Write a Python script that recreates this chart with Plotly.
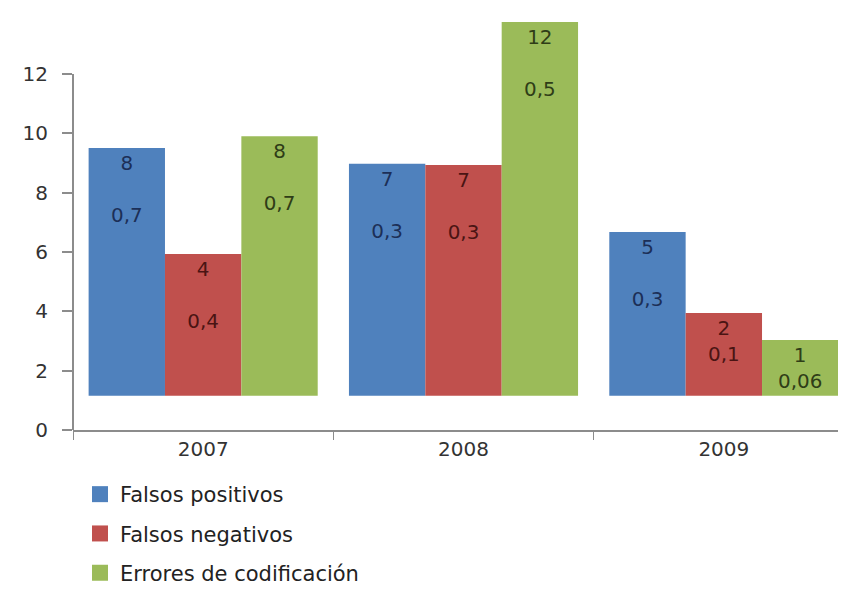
import plotly.graph_objects as go

years = ["2007", "2008", "2009"]
series_names = ["Falsos positivos", "Falsos negativos", "Errores de codificación"]
# bar tops as drawn (axis units), bars start at a raised floor
bar_base = 1.15
fp_top = [9.5, 8.97, 6.67]
fn_top = [5.93, 8.93, 3.94]
ec_top = [9.9, 13.75, 3.03]
fp_count = ["8", "7", "5"]
fn_count = ["4", "7", "2"]
ec_count = ["8", "12", "1"]
fp_rate = ["0,7", "0,3", "0,3"]
fn_rate = ["0,4", "0,3", "0,1"]
ec_rate = ["0,7", "0,5", "0,06"]
y_ticks = [0, 2, 4, 6, 8, 10, 12]

colors = ["#4F81BD", "#C0504D", "#9BBB59"]
text_colors = ["#1c2f57", "#4a1413", "#2f3d17"]

fig = go.Figure()
for i, (name, tops, counts, rates) in enumerate(zip(
        series_names, [fp_top, fn_top, ec_top], [fp_count, fn_count, ec_count],
        [fp_rate, fn_rate, ec_rate])):
    heights = [t - bar_base for t in tops]
    texts = [c + ("<br><br>" if h > 3 else "<br>") + r for c, r, h in zip(counts, rates, heights)]
    fig.add_trace(go.Bar(
        x=years, y=heights, base=bar_base, name=name,
        marker=dict(color=colors[i], line=dict(width=0)),
        text=texts, textposition="inside", insidetextanchor="end",
        textfont=dict(color=text_colors[i], size=20, family="DejaVu Sans"),
        textangle=0, showlegend=False,
    ))
    # legend entry with a larger square swatch
    fig.add_trace(go.Scatter(
        x=[None], y=[None], mode="markers", name=name,
        marker=dict(symbol="square", size=18, color=colors[i]),
        legendgroup=name, showlegend=True,
    ))

# y axis line only up to the last tick
fig.add_shape(type="line", xref="paper", yref="y", x0=0, x1=0,
              y0=y_ticks[0], y1=y_ticks[-1], line=dict(color="#8c8c8c", width=2))

fig.update_layout(
    width=846, height=590,
    barmode="group", bargap=0.12, bargroupgap=0,
    paper_bgcolor="white", plot_bgcolor="white",
    margin=dict(l=65, r=0, t=0, b=168, autoexpand=False),
    font=dict(family="DejaVu Sans", size=19, color="#333333"),
    uniformtext=dict(minsize=12, mode="show"),
    showlegend=True,
    legend=dict(
        xref="container", yref="container",
        x=72 / 846, y=(590 - 466) / 590, xanchor="left", yanchor="top",
        orientation="v", tracegroupgap=9,
        font=dict(size=21, color="#222222", family="DejaVu Sans"),
        bgcolor="rgba(0,0,0,0)",
    ),
    xaxis=dict(
        type="category", range=[-0.5, 2.5],
        showline=True, linecolor="#8c8c8c", linewidth=2,
        ticks="outside", tickson="boundaries", ticklen=8, tickcolor="#8c8c8c",
        tickfont=dict(size=20, color="#333333"), showgrid=False,
    ),
    yaxis=dict(
        range=[0, 14.22], tickvals=y_ticks,
        showline=False,
        ticks="outside", ticklen=10, tickcolor="#8c8c8c", tickwidth=2,
        ticklabelstandoff=10,
        tickfont=dict(size=20, color="#333333"), showgrid=False, zeroline=False,
    ),
)

fig.write_html("out.html")
